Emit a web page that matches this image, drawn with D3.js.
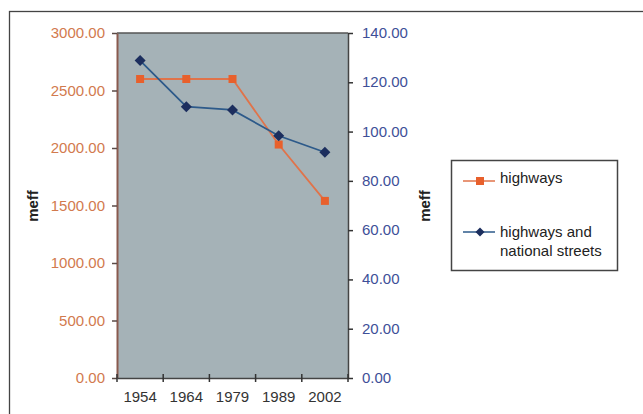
<!DOCTYPE html>
<html><head><meta charset="utf-8">
<script src="https://cdn.jsdelivr.net/npm/d3@7"></script>
<style>body{margin:0;background:#fff;}svg{display:block;font-family:"Liberation Sans",Arial,sans-serif;}</style>
</head><body>
<script>
const years = ["1954","1964","1979","1989","2002"];
const highways = [2600, 2600, 2600, 2030, 1540];
const nationalStreets = [128.8, 110.1, 108.8, 98.3, 91.6];
const leftTicks = [0,500,1000,1500,2000,2500,3000];
const rightTicks = [0,20,40,60,80,100,120,140];
const seriesNames = ["highways", "highways and national streets"];

const W = 643, H = 414;
const svg = d3.select("body").append("svg").attr("width", W).attr("height", H);
svg.append("rect").attr("x", 9.5).attr("y", 11.5).attr("width", 700).attr("height", 500)
  .attr("fill", "#fff").attr("stroke", "#444").attr("stroke-width", 1.3);

const pl = 117, pr = 348, pt = 33, pb = 378;
const x = d3.scaleBand().domain(years).range([pl, pr]);
const yL = d3.scaleLinear().domain([0, 3000]).range([pb, pt]);
const yR = d3.scaleLinear().domain([0, 140]).range([pb, pt]);

svg.append("rect").attr("x", pl).attr("y", pt).attr("width", pr - pl).attr("height", pb - pt).attr("fill", "#a5b2b7");
svg.append("line").attr("x1", pl).attr("x2", pr).attr("y1", pt).attr("y2", pt).attr("stroke", "#555").attr("stroke-width", 1.5);

const fmt = d3.format(".2f");
const gL = svg.append("g").attr("transform", `translate(${pl},0)`)
  .call(d3.axisLeft(yL).tickValues(leftTicks).tickFormat(fmt).tickSize(5).tickSizeOuter(0).tickPadding(7));
gL.select(".domain").attr("stroke", "#8a5a4e").attr("stroke-width", 2);
gL.selectAll(".tick line").attr("stroke", "#5a4a46").attr("stroke-width", 1.5);
gL.selectAll(".tick text").attr("fill", "#d27a4e").attr("font-size", 15).attr("font-family", "Liberation Sans, Arial").attr("dy", "0.3em");

const gR = svg.append("g").attr("transform", `translate(${pr},0)`)
  .call(d3.axisRight(yR).tickValues(rightTicks).tickFormat(fmt).tickSize(5).tickSizeOuter(0).tickPadding(9));
gR.select(".domain").attr("stroke", "#444").attr("stroke-width", 1.5);
gR.selectAll(".tick line").attr("stroke", "#333").attr("stroke-width", 1.5);
gR.selectAll(".tick text").attr("fill", "#3e4f98").attr("font-size", 15).attr("font-family", "Liberation Sans, Arial").attr("dy", "0.3em");

// x axis with ticks at band boundaries
const gX = svg.append("g").attr("transform", `translate(0,${pb})`)
  .call(d3.axisBottom(x).tickSize(0).tickPadding(13));
gX.select(".domain").attr("stroke", "#444").attr("stroke-width", 1.5);
gX.selectAll(".tick text").attr("fill", "#333").attr("font-size", 15).attr("font-family", "Liberation Sans, Arial");
const bounds = years.map(d => x(d)).concat([x(years[years.length-1]) + x.bandwidth()]);
gX.selectAll(".bt").data(bounds).enter().append("line")
  .attr("x1", d => d).attr("x2", d => d).attr("y1", -4).attr("y2", 4).attr("stroke", "#333").attr("stroke-width", 1.5);

// series
const cx = d => x(d) + x.bandwidth() / 2;
const orange = "#e8602c", navy = "#1c2e5e";
svg.append("path").datum(highways)
  .attr("d", d3.line().x((d, i) => cx(years[i])).y(d => yL(d)))
  .attr("fill", "none").attr("stroke", "#e0734a").attr("stroke-width", 1.8);
svg.selectAll(".sq").data(highways).enter().append("rect")
  .attr("x", (d, i) => cx(years[i]) - 4).attr("y", d => yL(d) - 4).attr("width", 8).attr("height", 8).attr("fill", orange);

svg.append("path").datum(nationalStreets)
  .attr("d", d3.line().x((d, i) => cx(years[i])).y(d => yR(d)))
  .attr("fill", "none").attr("stroke", "#2d5a8a").attr("stroke-width", 1.8);
svg.selectAll(".dm").data(nationalStreets).enter().append("path")
  .attr("transform", (d, i) => `translate(${cx(years[i])},${yR(d)})`)
  .attr("d", "M0,-5.5L5.5,0L0,5.5L-5.5,0Z").attr("fill", navy);

// axis titles
svg.append("text").attr("transform", "translate(38,206) rotate(-90)").attr("text-anchor", "middle")
  .attr("font-size", 15).attr("font-weight", "bold").attr("fill", "#222").text("meff");
svg.append("text").attr("transform", "translate(430,206) rotate(-90)").attr("text-anchor", "middle")
  .attr("font-size", 15).attr("font-weight", "bold").attr("fill", "#222").text("meff");

// legend
const lg = svg.append("g");
lg.append("rect").attr("x", 451.5).attr("y", 160.5).attr("width", 166).attr("height", 110)
  .attr("fill", "#fff").attr("stroke", "#444").attr("stroke-width", 1.5);
lg.append("line").attr("x1", 463).attr("x2", 495).attr("y1", 181).attr("y2", 181).attr("stroke", "#e0734a").attr("stroke-width", 1.5);
lg.append("rect").attr("x", 476).attr("y", 177).attr("width", 8).attr("height", 8).attr("fill", orange);
lg.append("text").attr("x", 500).attr("y", 183).attr("font-size", 15).attr("fill", "#222").text(seriesNames[0]);
lg.append("line").attr("x1", 463).attr("x2", 495).attr("y1", 232).attr("y2", 232).attr("stroke", "#2d5a8a").attr("stroke-width", 1.5);
lg.append("path").attr("transform", "translate(480,232)").attr("d", "M0,-4.5L4.5,0L0,4.5L-4.5,0Z").attr("fill", navy);
const t2 = lg.append("text").attr("font-size", 15).attr("fill", "#222");
t2.append("tspan").attr("x", 500).attr("y", 237).text("highways and");
t2.append("tspan").attr("x", 500).attr("y", 256).text("national streets");
</script>
</body></html>
